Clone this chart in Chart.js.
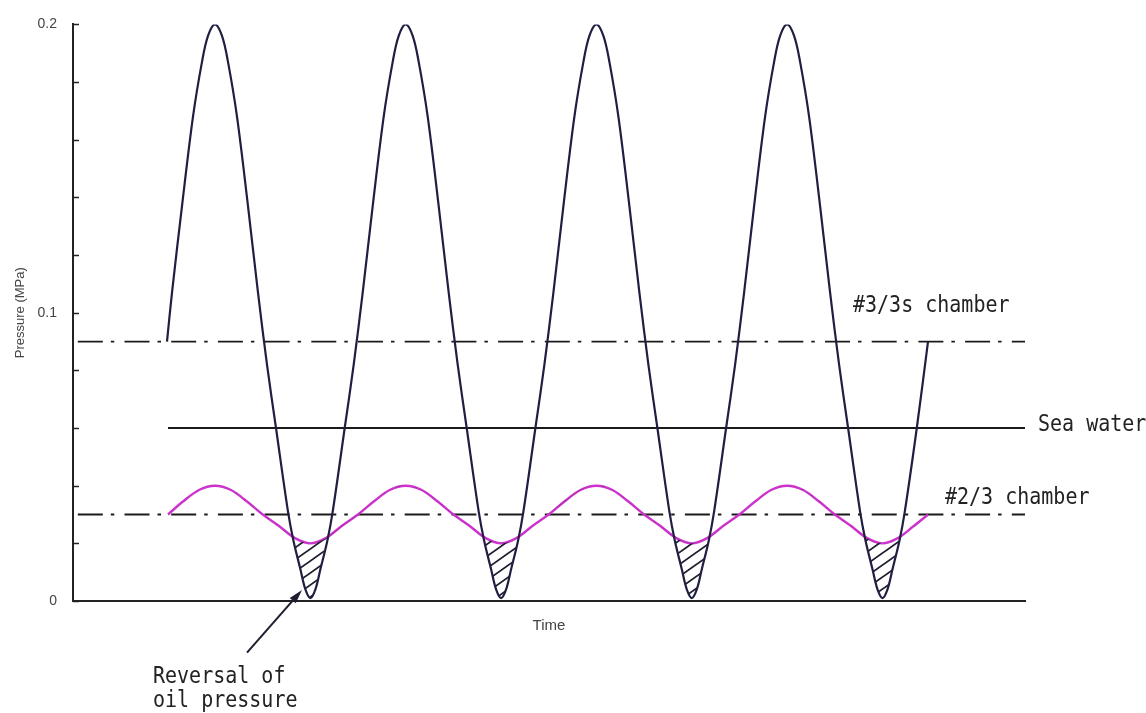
<!DOCTYPE html>
<html>
<head>
<meta charset="utf-8">
<script src="https://cdn.jsdelivr.net/npm/chart.js@4.4.1/dist/chart.umd.min.js"></script>
<style>
html,body{margin:0;padding:0;background:#fff;}
#wrap{width:1146px;height:713px;}
</style>
</head>
<body>
<div id="wrap"><canvas id="c" width="1146" height="713"></canvas></div>
<script>
// ---- data (time in arbitrary units, pressure in MPa) ----
const blackT = [
  94, 99, 109, 120, 129, 135, 142,
  149, 155, 164, 175, 185, 194, 203, 215, 220.4, 227.4, 232.4, 237.4,
  242.4, 247.4, 254.4, 259.7, 271.7, 280.7, 289.7, 299.7, 310.7, 319.7, 325.7, 332.7,
  339.7, 345.7, 354.7, 365.7, 375.7, 384.7, 393.7, 405.7, 411.1, 418.1, 423.1, 428.1,
  433.1, 438.1, 445.1, 450.4, 462.4, 471.4, 480.4, 490.4, 501.4, 510.4, 516.4, 523.4,
  530.4, 536.4, 545.4, 556.4, 566.4, 575.4, 584.4, 596.4, 601.8, 608.8, 613.8, 618.8,
  623.8, 628.8, 635.8, 641.1, 653.1, 662.1, 671.1, 681.1, 692.1, 701.1, 707.1, 714.1,
  721.1, 727.1, 736.1, 747.1, 757.1, 766.1, 775.1, 787.1, 792.5, 799.5, 804.5, 809.5,
  814.5, 819.5, 826.5, 831.8, 843.8, 855
];
const blackV = [
  0.090, 0.107, 0.137, 0.168, 0.187, 0.196, 0.200,
  0.196, 0.187, 0.168, 0.137, 0.107, 0.082, 0.060, 0.031, 0.021, 0.011, 0.004, 0.001,
  0.004, 0.011, 0.021, 0.031, 0.060, 0.082, 0.107, 0.137, 0.168, 0.187, 0.196, 0.200,
  0.196, 0.187, 0.168, 0.137, 0.107, 0.082, 0.060, 0.031, 0.021, 0.011, 0.004, 0.001,
  0.004, 0.011, 0.021, 0.031, 0.060, 0.082, 0.107, 0.137, 0.168, 0.187, 0.196, 0.200,
  0.196, 0.187, 0.168, 0.137, 0.107, 0.082, 0.060, 0.031, 0.021, 0.011, 0.004, 0.001,
  0.004, 0.011, 0.021, 0.031, 0.060, 0.082, 0.107, 0.137, 0.168, 0.187, 0.196, 0.200,
  0.196, 0.187, 0.168, 0.137, 0.107, 0.082, 0.060, 0.031, 0.021, 0.011, 0.004, 0.001,
  0.004, 0.011, 0.021, 0.031, 0.060, 0.090
];
const magentaT = [
  95, 110, 126, 142,
  158, 174, 189.7, 206, 222, 237.4, 252.7, 268.7, 285, 300.7, 316.7, 332.7,
  348.7, 364.7, 380.4, 396.7, 412.7, 428.1, 443.4, 459.4, 475.7, 491.4, 507.4, 523.4,
  539.4, 555.4, 571.1, 587.4, 603.4, 618.8, 634.1, 650.1, 666.4, 682.1, 698.1, 714.1,
  730.1, 746.1, 761.8, 778.1, 794.1, 809.5, 824.8, 840.8, 855
];
const magentaV = [
  0.030, 0.0345, 0.0385, 0.040,
  0.0385, 0.0345, 0.030, 0.026, 0.0218, 0.020, 0.0218, 0.026, 0.030, 0.0345, 0.0385, 0.040,
  0.0385, 0.0345, 0.030, 0.026, 0.0218, 0.020, 0.0218, 0.026, 0.030, 0.0345, 0.0385, 0.040,
  0.0385, 0.0345, 0.030, 0.026, 0.0218, 0.020, 0.0218, 0.026, 0.030, 0.0345, 0.0385, 0.040,
  0.0385, 0.0345, 0.030, 0.026, 0.0218, 0.020, 0.0218, 0.026, 0.030
];
const refNames  = ['#3/3s chamber', 'Sea water', '#2/3 chamber'];
const refLevels = [0.09, 0.06, 0.03];
const refStart  = [0, 95, 0];
const refDashed = [true, false, true];
const timeMin = 0, timeMax = 952;
const yMin = 0, yMax = 0.2, yMinorStep = 0.02, yLabelStep = 0.1;

// annotation texts (anchor in data units: time, pressure)
const noteText = ['#3/3s chamber', 'Sea water', '#2/3 chamber', 'Reversal of', 'oil pressure'];
const noteT = [780, 965, 872, 80, 80];
const noteV = [0.1002, 0.0589, 0.0337, -0.0286, -0.0368];
const arrowFrom = {t: 174, v: -0.0179};
const arrowTo   = {t: 229, v: 0.0038};

// ---- hatch pattern ----
function makeHatch() {
  const w = 17, h = 12;
  const cv = document.createElement('canvas');
  cv.width = w; cv.height = h;
  const c = cv.getContext('2d');
  c.strokeStyle = '#1e1e30';
  c.lineWidth = 1.8;
  c.beginPath();
  c.moveTo(-w, 2 * h); c.lineTo(2 * w, -h);
  c.moveTo(-2 * w, 2 * h); c.lineTo(w, -h);
  c.moveTo(0, 2 * h); c.lineTo(3 * w, -h);
  c.stroke();
  return c.createPattern(cv, 'repeat');
}
const hatch = makeHatch();

const toXY = (xs, ys) => xs.map((x, i) => ({x: x, y: ys[i]}));

const datasets = [
  {
    label: 'Oil pressure',
    data: toXY(blackT, blackV),
    borderColor: '#1f1f42',
    borderWidth: 2.2,
    pointRadius: 0,
    tension: 0.35,
    fill: {target: 1, above: 'rgba(0,0,0,0)', below: hatch}
  },
  {
    label: '#2/3 chamber pressure',
    data: toXY(magentaT, magentaV),
    borderColor: '#cc33cc',
    borderWidth: 2.4,
    pointRadius: 0,
    tension: 0.35,
    fill: false
  }
];
refLevels.forEach((lv, i) => {
  datasets.push({
    label: refNames[i],
    data: [{x: refStart[i], y: lv}, {x: timeMax, y: lv}],
    borderColor: '#1a1a1a',
    borderWidth: 1.8,
    borderDash: refDashed[i] ? [25, 8, 3.5, 10.2] : [],
    borderDashOffset: refDashed[i] ? 41.9 : 0,
    pointRadius: 0,
    fill: false
  });
});

const decor = {
  id: 'decor',
  afterDraw(chart) {
    const ctx = chart.ctx;
    const x = chart.scales.x, y = chart.scales.y;
    ctx.save();
    // inward minor ticks on the y axis
    ctx.strokeStyle = '#222';
    ctx.lineWidth = 1.5;
    y.ticks.forEach(t => {
      const py = Math.round(y.getPixelForValue(t.value)) + 0.5;
      ctx.beginPath();
      ctx.moveTo(x.left, py);
      ctx.lineTo(x.left + 6, py);
      ctx.stroke();
    });
    // annotation texts
    ctx.fillStyle = '#222';
    ctx.font = '20px "DejaVu Sans Mono", "Liberation Mono", monospace';
    ctx.textBaseline = 'alphabetic';
    ctx.textAlign = 'left';
    noteText.forEach((txt, i) => {
      ctx.save();
      ctx.translate(x.getPixelForValue(noteT[i]), y.getPixelForValue(noteV[i]));
      ctx.scale(1, 1.15);
      ctx.fillText(txt, 0, 0);
      ctx.restore();
    });
    // arrow
    const x1 = x.getPixelForValue(arrowFrom.t), y1 = y.getPixelForValue(arrowFrom.v);
    const x2 = x.getPixelForValue(arrowTo.t), y2 = y.getPixelForValue(arrowTo.v);
    const ang = Math.atan2(y2 - y1, x2 - x1);
    const hl = 14, hw = 4;
    ctx.strokeStyle = '#1e1e30';
    ctx.lineWidth = 2;
    ctx.beginPath();
    ctx.moveTo(x1, y1);
    ctx.lineTo(x2 - Math.cos(ang) * hl * 0.6, y2 - Math.sin(ang) * hl * 0.6);
    ctx.stroke();
    ctx.fillStyle = '#1e1e30';
    ctx.beginPath();
    ctx.moveTo(x2, y2);
    ctx.lineTo(x2 - Math.cos(ang) * hl - Math.sin(ang) * hw, y2 - Math.sin(ang) * hl + Math.cos(ang) * hw);
    ctx.lineTo(x2 - Math.cos(ang) * hl + Math.sin(ang) * hw, y2 - Math.sin(ang) * hl - Math.cos(ang) * hw);
    ctx.closePath();
    ctx.fill();
    ctx.restore();
  }
};

new Chart(document.getElementById('c'), {
  type: 'line',
  data: {datasets: datasets},
  options: {
    responsive: false,
    animation: false,
    devicePixelRatio: 1,
    layout: {padding: {left: 0, top: 20, right: 121, bottom: 78}},
    plugins: {
      legend: {display: false},
      tooltip: {enabled: false},
      filler: {propagate: false}
    },
    scales: {
      x: {
        type: 'linear',
        min: timeMin,
        max: timeMax,
        grid: {display: false, drawTicks: false},
        border: {display: true, color: '#222', width: 2},
        ticks: {display: false},
        title: {display: true, text: 'Time', color: '#444',
                font: {family: '"Liberation Sans", Arial, sans-serif', size: 15},
                padding: {top: 0, bottom: 0}},
        afterFit(s) { s.height = 34; }
      },
      y: {
        type: 'linear',
        min: yMin,
        max: yMax,
        grid: {display: false, drawTicks: false},
        border: {display: true, color: '#222', width: 2},
        ticks: {
          stepSize: yMinorStep,
          padding: 16,
          color: '#444',
          font: {family: '"Liberation Sans", Arial, sans-serif', size: 14},
          autoSkip: false,
          callback: (v) => {
            const k = v / yLabelStep;
            return Math.abs(k - Math.round(k)) < 1e-6 ? String(+(Math.round(k) * yLabelStep).toFixed(1)) : '';
          }
        },
        title: {display: true, text: 'Pressure (MPa)', color: '#444',
                font: {family: '"Liberation Sans", Arial, sans-serif', size: 13},
                padding: {top: 13, bottom: 0}},
        afterFit(s) { s.width = 73; }
      }
    }
  },
  plugins: [decor]
});
</script>
</body>
</html>
